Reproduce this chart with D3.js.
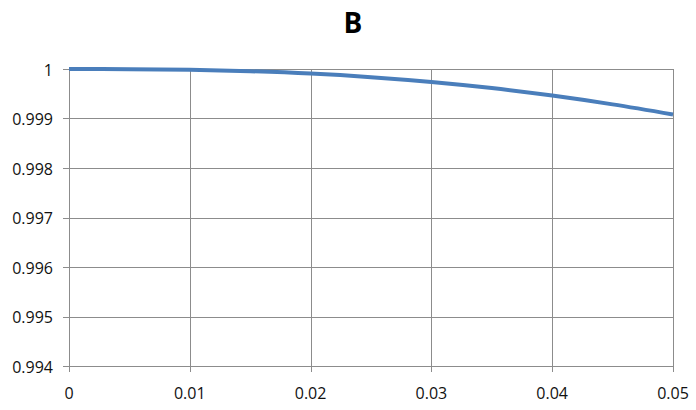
<!DOCTYPE html>
<html><head><meta charset="utf-8">
<script src="https://cdn.jsdelivr.net/npm/d3@7"></script>
<style>body{margin:0;background:#fff;} svg{display:block;}</style>
</head><body>
<script>
const title = "B";
const xValues = [0, 0.005, 0.01, 0.015, 0.02, 0.025, 0.03, 0.035, 0.04, 0.045, 0.05];
const yValues = [1, 0.999997, 0.999983, 0.999955, 0.999908, 0.999835, 0.999738, 0.999615, 0.999463, 0.999285, 0.999081];
const xTicks = [0, 0.01, 0.02, 0.03, 0.04, 0.05];
const yTicks = [0.994, 0.995, 0.996, 0.997, 0.998, 0.999, 1];

const W = 696, H = 410;
const m = {left: 69, right: 23, top: 69, bottom: 44};
const svg = d3.select("body").append("svg").attr("width", W).attr("height", H);
const x = d3.scaleLinear().domain([0, 0.05]).range([m.left, W - m.right]);
const y = d3.scaleLinear().domain([0.994, 1]).range([H - m.bottom, m.top]);
const font = "Open Sans, Liberation Sans, sans-serif";
const grid = "#8c8c8c";

svg.append("text").attr("x", 353).attr("y", 33).attr("text-anchor", "middle")
  .attr("font-family", font).attr("font-weight", "bold").attr("font-size", 28).text(title);

// gridlines
svg.append("g").selectAll("line").data(yTicks).join("line")
  .attr("x1", m.left - 6).attr("x2", W - m.right)
  .attr("y1", d => Math.round(y(d)) + 0.5).attr("y2", d => Math.round(y(d)) + 0.5)
  .attr("stroke", grid).attr("stroke-width", 1);
svg.append("g").selectAll("line").data(xTicks).join("line")
  .attr("x1", d => Math.round(x(d)) + 0.5).attr("x2", d => Math.round(x(d)) + 0.5)
  .attr("y1", m.top).attr("y2", H - m.bottom + 6)
  .attr("stroke", grid).attr("stroke-width", 1);

// labels
svg.append("g").selectAll("text").data(yTicks).join("text")
  .attr("x", 53).attr("y", d => y(d) + 6.5).attr("text-anchor", "end")
  .attr("font-family", font).attr("font-size", 16).attr("fill", "#111")
  .text(d => d3.format("")(d));
svg.append("g").selectAll("text").data(xTicks).join("text")
  .attr("x", d => x(d)).attr("y", 399).attr("text-anchor", "middle")
  .attr("font-family", font).attr("font-size", 16).attr("fill", "#111")
  .text(d => d3.format("")(d));

const line = d3.line().x((d, i) => x(xValues[i])).y(d => y(d)).curve(d3.curveMonotoneX);
svg.append("path").datum(yValues).attr("d", line).attr("fill", "none")
  .attr("stroke", "#4a7ebb").attr("stroke-width", 4).attr("stroke-linecap", "butt");
</script>
</body></html>
